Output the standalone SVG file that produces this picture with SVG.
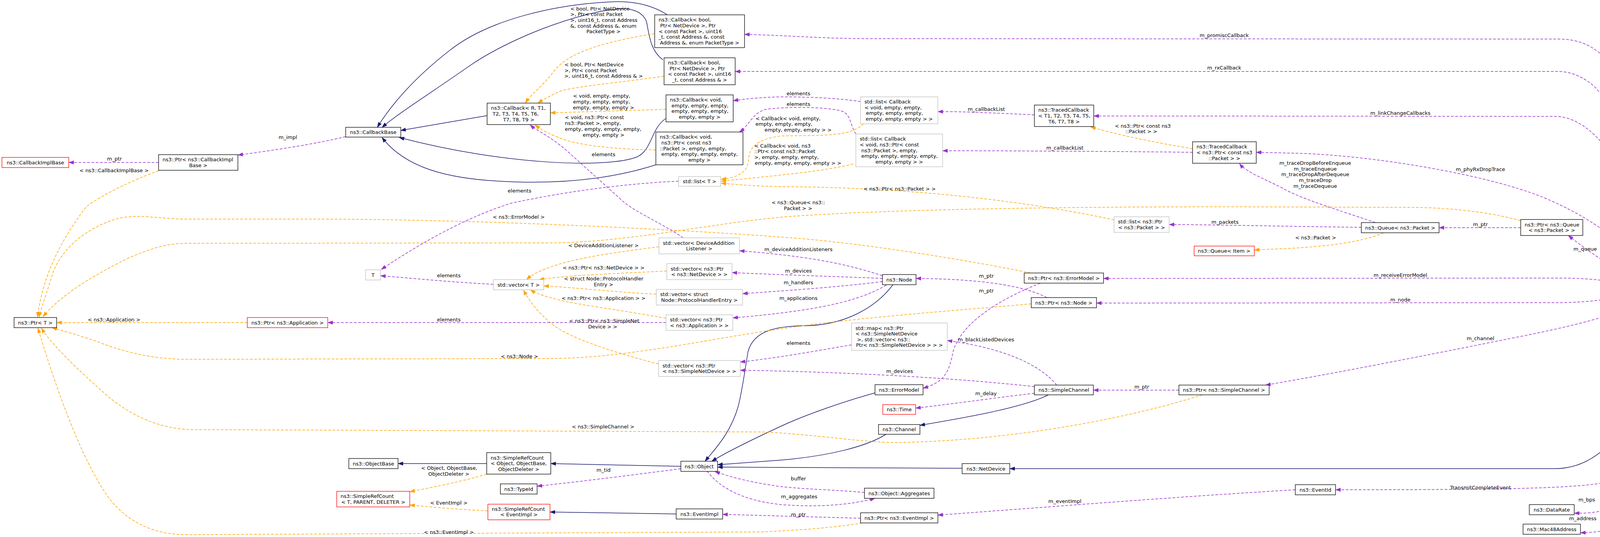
<svg xmlns="http://www.w3.org/2000/svg" width="4584" height="1375" viewBox="0 0 4584 1375">
<defs>
<marker id="ab" viewBox="0 0 14 10" refX="13" refY="5" markerWidth="14" markerHeight="10" markerUnits="userSpaceOnUse" orient="auto"><path d="M0,0 L14,5 L0,10 z" fill="#191970"/></marker>
<marker id="ap" viewBox="0 0 14 10" refX="13" refY="5" markerWidth="14" markerHeight="10" markerUnits="userSpaceOnUse" orient="auto"><path d="M0,0 L14,5 L0,10 z" fill="#9a32cd"/></marker>
<marker id="ao" viewBox="0 0 14 10" refX="13" refY="5" markerWidth="14" markerHeight="10" markerUnits="userSpaceOnUse" orient="auto"><path d="M0,0 L14,5 L0,10 z" fill="#ffa500"/></marker>
</defs>
<style>
.n rect{fill:#ffffff;stroke:#000000;stroke-width:1.3}
.g rect{stroke:#bfbfbf}
.r rect{stroke:#ff0000}
.h rect{fill:#bfbfbf}
text{font-family:"DejaVu Sans",sans-serif;font-size:13px;fill:#000000}
.c{text-anchor:middle}
#edges path{fill:none}
.inh{stroke:#191970;stroke-width:1.5;marker-end:url(#ab)}
.mem{stroke:#9a32cd;stroke-width:1.5;stroke-dasharray:7,4;marker-end:url(#ap)}
.tpl{stroke:#ffa500;stroke-width:1.5;stroke-dasharray:7,4;marker-end:url(#ao)}
</style>
<rect x="0" y="0" width="4584" height="1375" fill="#ffffff"/>
<g id="edges">
<path class="inh" d="M4392,744 L4342,744"/>
<path class="inh" d="M4257,757 C4235,1000 4140,1200 3980,1200 L2585,1200"/>
<path class="inh" d="M2463,1199 L1837,1196"/>
<path class="inh" d="M2268,1112 C2220,1143 2120,1168 2000,1178 L1837,1190"/>
<path class="inh" d="M2240,1006 C2160,1028 2060,1063 2000,1091 C1920,1128 1860,1158 1822,1181"/>
<path class="inh" d="M2286,729 C2240,790 2160,833 2060,834 C1990,835 1930,845 1915,900 C1905,960 1900,1000 1890,1040 C1870,1110 1830,1150 1805,1181"/>
<path class="inh" d="M1743,1194 L1410,1187"/>
<path class="inh" d="M1246,1187 L1019,1187"/>
<path class="inh" d="M1731,1316 L1408,1311"/>
<path class="inh" d="M2684,1011 C2620,1043 2480,1068 2355,1089"/>
<path class="inh" d="M1247,296 L1026,334"/>
<path class="inh" d="M1707,37 C1660,8 1610,2 1560,5 C1420,12 1250,50 1150,130 C1060,200 1000,270 966,326"/>
<path class="inh" d="M1697,153 C1665,130 1662,90 1655,55 C1645,30 1620,22 1590,22 C1480,30 1300,100 1200,170 C1100,240 1020,290 978,326"/>
<path class="inh" d="M1705,303 C1665,330 1670,385 1630,402 C1560,430 1300,425 1022,352"/>
<path class="inh" d="M1679,422 C1560,460 1420,475 1250,462 C1120,452 1030,420 978,352"/>

<path class="tpl" d="M1676,86 C1560,105 1460,130 1420,180 C1390,220 1360,240 1345,264"/>
<path class="tpl" d="M1700,195 C1600,210 1460,222 1430,235 C1410,245 1390,255 1377,264"/>
<path class="tpl" d="M1705,280 L1409,289"/>
<path class="tpl" d="M1679,384 C1560,382 1470,370 1430,352 C1400,340 1385,332 1370,320"/>
<path class="tpl" d="M406,437 C330,465 260,500 220,530 C160,610 110,700 96,812"/>
<path class="tpl" d="M2638,699 C2500,670 2200,620 2000,607 C1700,585 1200,561 800,561 L478,561 C400,561 360,546 300,560 C230,580 160,630 135,700 C120,750 105,790 100,812"/>
<path class="tpl" d="M3893,565 C3800,540 3700,531 3600,531 L3300,530 C2900,528 2300,532 2000,556 C1800,575 1600,622 1400,622 L478,623 C420,623 380,640 330,660 C250,700 160,750 110,811"/>
<path class="tpl" d="M633,826 L145,826"/>
<path class="tpl" d="M2640,778 C2450,795 2200,812 2000,842 C1800,870 1600,918 1400,918 L478,920 C380,920 300,895 250,875 C200,858 165,848 133,839"/>
<path class="tpl" d="M3078,1011 C2900,1068 2600,1128 2300,1133 C2200,1133 2100,1113 1950,1106 L491,1100 C400,1098 330,1058 280,1018 C200,948 130,880 106,840"/>
<path class="tpl" d="M2207,1339 C2130,1352 2050,1357 1950,1362 L478,1369 C380,1369 320,1327 280,1277 C200,1167 130,950 97,840"/>
<path class="tpl" d="M2211,317 C2190,335 2170,345 2083,347 L2000,348 C1940,356 1918,375 1916,410 C1914,440 1890,455 1846,459"/>
<path class="tpl" d="M2184,420 C2100,440 2000,448 1846,464"/>
<path class="tpl" d="M2852,563 C2700,530 2400,480 2000,478 C1920,476 1880,472 1846,469"/>
<path class="tpl" d="M1687,632 C1580,645 1480,660 1420,680 C1390,690 1365,700 1348,716"/>
<path class="tpl" d="M1707,694 C1580,700 1450,705 1380,716"/>
<path class="tpl" d="M1680,753 C1600,750 1480,737 1392,732"/>
<path class="tpl" d="M1705,815 C1600,795 1470,780 1420,765 C1390,757 1370,750 1358,742"/>
<path class="tpl" d="M1686,932 C1580,905 1470,870 1420,835 C1380,805 1355,770 1340,743"/>
<path class="tpl" d="M1246,1214 C1180,1234 1100,1249 1049,1259"/>
<path class="tpl" d="M1249,1308 C1180,1305 1110,1299 1049,1293"/>
<path class="tpl" d="M3053,381 C2960,365 2880,350 2792,325"/>
<path class="tpl" d="M3542,596 C3500,615 3420,630 3300,636 L3211,640"/>

<path class="mem" d="M4250,731 C4240,500 4200,250 4120,160 C4080,115 4040,100 3988,100 L2207,99 C2100,98 2000,90 1906,88"/>
<path class="mem" d="M4252,731 C4235,500 4160,300 4080,220 C4050,195 4020,183 3988,183 L1882,183"/>
<path class="mem" d="M4227,731 C4200,550 4150,400 4070,335 C4040,310 4010,298 3980,298 L2800,297"/>
<path class="mem" d="M4222,731 C4180,630 4080,560 3950,505 C3800,445 3500,395 3300,392 L3216,390"/>
<path class="mem" d="M4188,731 C4140,690 4060,640 4015,603"/>
<path class="mem" d="M3893,583 L3684,583"/>
<path class="mem" d="M3521,570 C3450,545 3330,510 3280,480 C3230,455 3190,440 3173,419"/>
<path class="mem" d="M3485,582 C3300,580 3100,575 2993,575"/>
<path class="mem" d="M4185,731 C4100,715 4050,712 3988,712 L2825,713"/>
<path class="mem" d="M4176,757 C4100,770 4040,775 3988,775 L2807,776"/>
<path class="mem" d="M4234,757 C4180,790 4100,820 3900,860 C3700,900 3450,950 3240,986"/>
<path class="mem" d="M4250,757 C4235,950 4200,1180 4135,1228 C4080,1250 3900,1254 3419,1254"/>
<path class="mem" d="M4246,757 C4230,1000 4190,1250 4150,1290 C4100,1315 4060,1314 4030,1314"/>
<path class="mem" d="M4258,757 C4245,1050 4200,1300 4152,1345 C4110,1362 4070,1364 4046,1364"/>
<path class="mem" d="M3316,1254 C3000,1273 2700,1297 2401,1319"/>
<path class="mem" d="M2203,1327 L1850,1317"/>
<path class="mem" d="M1810,1206 C1840,1247 1900,1282 2000,1292 C2100,1300 2180,1292 2240,1276"/>
<path class="mem" d="M2213,1261 C2150,1255 2050,1252 2000,1246 C1930,1237 1870,1222 1830,1207"/>
<path class="mem" d="M1743,1200 C1600,1219 1450,1237 1375,1245"/>
<path class="mem" d="M2259,706 C2150,670 2050,655 1893,642"/>
<path class="mem" d="M2259,713 C2150,708 2000,704 1874,698"/>
<path class="mem" d="M2259,721 C2150,735 2000,745 1901,752"/>
<path class="mem" d="M2269,730 C2200,770 2100,795 1876,814"/>
<path class="mem" d="M2680,762 C2620,730 2500,714 2345,713"/>
<path class="mem" d="M2663,725 C2550,770 2460,830 2440,900 C2430,950 2420,978 2363,994"/>
<path class="mem" d="M2705,986 C2660,930 2560,890 2425,872"/>
<path class="mem" d="M2180,883 C2080,900 2000,915 1895,927"/>
<path class="mem" d="M2648,990 C2400,963 2100,951 1895,948"/>
<path class="mem" d="M2648,1007 C2550,1018 2450,1033 2344,1045"/>
<path class="mem" d="M3018,999 L2799,999"/>
<path class="mem" d="M2648,294 C2550,290 2470,285 2401,286"/>
<path class="mem" d="M3053,390 C2900,388 2600,386 2413,386"/>
<path class="mem" d="M2203,260 C2150,252 2080,248 2000,248 C1950,249 1900,254 1877,258"/>
<path class="mem" d="M2191,343 C2175,320 2180,290 2150,283 C2100,272 2000,274 1960,280 C1925,290 1920,320 1893,338"/>
<path class="mem" d="M1749,609 C1700,575 1640,550 1600,520 L1450,385 C1410,350 1375,335 1357,320"/>
<path class="mem" d="M1737,464 C1600,470 1450,490 1310,520 C1180,560 1050,640 976,690"/>
<path class="mem" d="M1263,728 C1150,722 1050,712 974,706"/>
<path class="mem" d="M1705,826 L839,826"/>
<path class="mem" d="M885,350 C800,370 700,385 609,397"/>
<path class="mem" d="M406,416 L176,416"/>
</g>

<g id="edge-labels">
<text class="c" x="737" y="356">m_impl</text>
<text class="c" x="293" y="411">m_ptr</text>
<text class="c" x="292" y="441">&lt; ns3::CallbackImplBase &gt;</text>
<text x="1460" y="27">&lt; bool, Ptr&lt; NetDevice</text>
<text x="1460" y="41">&gt;, Ptr&lt; const Packet</text>
<text x="1460" y="56">&gt;, uint16_t, const Address</text>
<text x="1460" y="71">&amp;, const Address &amp;, enum</text>
<text class="c" x="1545" y="85">PacketType &gt;</text>
<text x="1445" y="170">&lt; bool, Ptr&lt; NetDevice</text>
<text x="1445" y="185">&gt;, Ptr&lt; const Packet</text>
<text class="c" x="1545" y="199">&gt;, uint16_t, const Address &amp; &gt;</text>
<text x="1467" y="250">&lt; void, empty, empty,</text>
<text x="1467" y="265">empty, empty, empty,</text>
<text class="c" x="1545" y="280">empty, empty, empty &gt;</text>
<text x="1446" y="305">&lt; void, ns3::Ptr&lt; const</text>
<text x="1446" y="320">ns3::Packet &gt;, empty,</text>
<text x="1446" y="335">empty, empty, empty, empty,</text>
<text class="c" x="1545" y="350">empty, empty &gt;</text>
<text class="c" x="1545" y="400">elements</text>
<text class="c" x="1330" y="493">elements</text>
<text x="1934" y="308">&lt; Callback&lt; void, empty,</text>
<text x="1934" y="322">empty, empty, empty,</text>
<text class="c" x="2043" y="337">empty, empty, empty &gt; &gt;</text>
<text x="1931" y="378">&lt; Callback&lt; void, ns3</text>
<text x="1931" y="392">::Ptr&lt; const ns3::Packet</text>
<text x="1931" y="407">&gt;, empty, empty, empty,</text>
<text class="c" x="2043" y="422">empty, empty, empty, empty &gt; &gt;</text>
<text class="c" x="2044" y="244">elements</text>
<text class="c" x="2044" y="271">elements</text>
<text class="c" x="2525" y="284">m_callbackList</text>
<text class="c" x="2726" y="383">m_callbackList</text>
<text x="2854" y="327">&lt; ns3::Ptr&lt; const ns3</text>
<text class="c" x="2922" y="341">::Packet &gt; &gt;</text>
<text class="c" x="3134" y="95">m_promiscCallback</text>
<text class="c" x="3134" y="178">m_rxCallback</text>
<text class="c" x="3585" y="294">m_linkChangeCallbacks</text>
<text class="c" x="3790" y="438">m_phyRxDropTrace</text>
<text class="c" x="3367" y="422">m_traceDropBeforeEnqueue</text>
<text class="c" x="3367" y="437">m_traceEnqueue</text>
<text class="c" x="3367" y="451">m_traceDropAfterDequeue</text>
<text class="c" x="3367" y="466">m_traceDrop</text>
<text class="c" x="3367" y="481">m_traceDequeue</text>
<text class="c" x="2303" y="488">&lt; ns3::Ptr&lt; ns3::Packet &gt; &gt;</text>
<text x="1975" y="523">&lt; ns3::Queue&lt; ns3::</text>
<text class="c" x="2043" y="538">Packet &gt; &gt;</text>
<text class="c" x="1328" y="560">&lt; ns3::ErrorModel &gt;</text>
<text class="c" x="3790" y="579">m_ptr</text>
<text class="c" x="3136" y="573">m_packets</text>
<text class="c" x="3368" y="613">&lt; ns3::Packet &gt;</text>
<text class="c" x="4058" y="642">m_queue</text>
<text class="c" x="1545" y="633">&lt; DeviceAdditionListener &gt;</text>
<text class="c" x="1545" y="690">&lt; ns3::Ptr&lt; ns3::NetDevice &gt; &gt;</text>
<text x="1444" y="718">&lt; struct Node::ProtocolHandler</text>
<text class="c" x="1545" y="733">Entry &gt;</text>
<text class="c" x="1545" y="768">&lt; ns3::Ptr&lt; ns3::Application &gt; &gt;</text>
<text x="1457" y="826">&lt; ns3::Ptr&lt; ns3::SimpleNet</text>
<text class="c" x="1543" y="841">Device &gt; &gt;</text>
<text class="c" x="1149" y="710">elements</text>
<text class="c" x="1149" y="823">elements</text>
<text class="c" x="292" y="823">&lt; ns3::Application &gt;</text>
<text class="c" x="2044" y="643">m_deviceAdditionListeners</text>
<text class="c" x="2044" y="698">m_devices</text>
<text class="c" x="2044" y="728">m_handlers</text>
<text class="c" x="2044" y="768">m_applications</text>
<text class="c" x="2525" y="711">m_ptr</text>
<text class="c" x="2525" y="749">m_ptr</text>
<text class="c" x="3585" y="709">m_receiveErrorModel</text>
<text class="c" x="3585" y="772">m_node</text>
<text class="c" x="3790" y="871">m_channel</text>
<text class="c" x="1330" y="917">&lt; ns3::Node &gt;</text>
<text class="c" x="2524" y="874">m_blackListedDevices</text>
<text class="c" x="2044" y="883">elements</text>
<text class="c" x="2303" y="955">m_devices</text>
<text class="c" x="2524" y="1012">m_delay</text>
<text class="c" x="2923" y="995">m_ptr</text>
<text class="c" x="1544" y="1097">&lt; ns3::SimpleChannel &gt;</text>
<text x="1078" y="1203">&lt; Object, ObjectBase,</text>
<text class="c" x="1149" y="1218">ObjectDeleter &gt;</text>
<text class="c" x="1545" y="1208">m_tid</text>
<text class="c" x="1149" y="1292">&lt; EventImpl &gt;</text>
<text class="c" x="2044" y="1230">buffer</text>
<text class="c" x="2046" y="1276">m_aggregates</text>
<text class="c" x="2044" y="1322">m_ptr</text>
<text class="c" x="2726" y="1288">m_eventImpl</text>
<text class="c" x="1149" y="1367">&lt; ns3::EventImpl &gt;</text>
<text class="c" x="3790" y="1253">TransmitCompleteEvent</text>
<text class="c" x="4062" y="1284">m_bps</text>
<text class="c" x="4052" y="1332">m_address</text>
</g>

<g id="n_lte" class="n h"><rect x="4392" y="731" width="187" height="26"/><text class="c" x="4485.5" y="748.5">ns3::LteSimpleNetDevice</text></g>
<g id="n_snd" class="n"><rect x="4176" y="731" width="166" height="26"/><text class="c" x="4259" y="748.5">ns3::SimpleNetDevice</text></g>
<g id="n_netdev" class="n"><rect x="2463" y="1187" width="122" height="26"/><text class="c" x="2524" y="1204.5">ns3::NetDevice</text></g>
<g id="n_object" class="n"><rect x="1743" y="1181" width="94" height="26"/><text class="c" x="1790" y="1198.5">ns3::Object</text></g>
<g id="n_objbase" class="n"><rect x="893" y="1174" width="126" height="26"/><text class="c" x="956" y="1191.5">ns3::ObjectBase</text></g>
<g id="n_src_obj" class="n"><rect x="1246" y="1159" width="164" height="55"/><text x="1256" y="1176.5">ns3::SimpleRefCount</text><text x="1256" y="1191">&lt; Object, ObjectBase,</text><text class="c" x="1328" y="1205.5">ObjectDeleter &gt;</text></g>
<g id="n_src_tpd" class="n r"><rect x="862" y="1258" width="187" height="40"/><text x="872" y="1275.2">ns3::SimpleRefCount</text><text class="c" x="955.5" y="1289.8">&lt; T, PARENT, DELETER &gt;</text></g>
<g id="n_typeid" class="n"><rect x="1281" y="1239" width="94" height="26"/><text class="c" x="1328" y="1256.5">ns3::TypeId</text></g>
<g id="n_src_ev" class="n r"><rect x="1249" y="1291" width="159" height="40"/><text x="1259" y="1307.7">ns3::SimpleRefCount</text><text class="c" x="1328.5" y="1322.3">&lt; EventImpl &gt;</text></g>
<g id="n_eventimpl" class="n"><rect x="1731" y="1303" width="119" height="26"/><text class="c" x="1790.5" y="1320.5">ns3::EventImpl</text></g>
<g id="n_aggr" class="n"><rect x="2213" y="1250" width="178" height="26"/><text class="c" x="2302" y="1267.5">ns3::Object::Aggregates</text></g>
<g id="n_ptr_ev" class="n"><rect x="2203" y="1313" width="198" height="26"/><text class="c" x="2302" y="1330.5">ns3::Ptr&lt; ns3::EventImpl &gt;</text></g>
<g id="n_eventid" class="n"><rect x="3316" y="1241" width="103" height="26"/><text class="c" x="3367.5" y="1258.5">ns3::EventId</text></g>
<g id="n_datarate" class="n"><rect x="3915" y="1292" width="115" height="26"/><text class="c" x="3972.5" y="1309.5">ns3::DataRate</text></g>
<g id="n_mac48" class="n"><rect x="3899" y="1342" width="147" height="26"/><text class="c" x="3972.5" y="1359.5">ns3::Mac48Address</text></g>
<g id="n_errmodel" class="n"><rect x="2240" y="985" width="123" height="26"/><text class="c" x="2301.5" y="1002.5">ns3::ErrorModel</text></g>
<g id="n_time" class="n r"><rect x="2260" y="1036" width="84" height="25"/><text class="c" x="2302" y="1053">ns3::Time</text></g>
<g id="n_channel" class="n"><rect x="2249" y="1087" width="106" height="25"/><text class="c" x="2302" y="1104">ns3::Channel</text></g>
<g id="n_simplechannel" class="n"><rect x="2648" y="986" width="151" height="25"/><text class="c" x="2723.5" y="1003">ns3::SimpleChannel</text></g>
<g id="n_ptr_sc" class="n"><rect x="3018" y="986" width="231" height="25"/><text class="c" x="3133.5" y="1003">ns3::Ptr&lt; ns3::SimpleChannel &gt;</text></g>
<g id="n_map" class="n g"><rect x="2180" y="827" width="245" height="70"/><text x="2190" y="844.6">std::map&lt; ns3::Ptr</text><text x="2190" y="859.2">&lt; ns3::SimpleNetDevice</text><text x="2194" y="873.8">&gt;, std::vector&lt; ns3::</text><text class="c" x="2302.5" y="888.4">Ptr&lt; ns3::SimpleNetDevice &gt; &gt; &gt;</text></g>
<g id="n_node" class="n"><rect x="2259" y="703" width="86" height="26"/><text class="c" x="2302" y="720.5">ns3::Node</text></g>
<g id="n_ptr_em" class="n"><rect x="2622" y="699" width="203" height="26"/><text class="c" x="2723.5" y="716.5">ns3::Ptr&lt; ns3::ErrorModel &gt;</text></g>
<g id="n_ptr_node" class="n"><rect x="2640" y="762" width="167" height="26"/><text class="c" x="2723.5" y="779.5">ns3::Ptr&lt; ns3::Node &gt;</text></g>
<g id="n_list_pkt" class="n g"><rect x="2852" y="555" width="141" height="40"/><text x="2862" y="572.2">std::list&lt; ns3::Ptr</text><text class="c" x="2922.5" y="586.8">&lt; ns3::Packet &gt; &gt;</text></g>
<g id="n_queue_item" class="n r"><rect x="3057" y="630" width="154" height="25"/><text class="c" x="3134" y="647">ns3::Queue&lt; Item &gt;</text></g>
<g id="n_queue_pkt" class="n"><rect x="3485" y="570" width="199" height="26"/><text class="c" x="3584.5" y="587.5">ns3::Queue&lt; ns3::Packet &gt;</text></g>
<g id="n_ptr_queue" class="n"><rect x="3893" y="562" width="159" height="41"/><text x="3903" y="579.7">ns3::Ptr&lt; ns3::Queue</text><text class="c" x="3972.5" y="594.3">&lt; ns3::Packet &gt; &gt;</text></g>
<g id="n_tc_ptr" class="n"><rect x="3053" y="363" width="163" height="55"/><text x="3063" y="380.4">ns3::TracedCallback</text><text x="3063" y="395">&lt; ns3::Ptr&lt; const ns3</text><text class="c" x="3134.5" y="409.6">::Packet &gt; &gt;</text></g>
<g id="n_tc_t" class="n"><rect x="2648" y="269" width="152" height="55"/><text x="2658" y="286.4">ns3::TracedCallback</text><text x="2658" y="301">&lt; T1, T2, T3, T4, T5,</text><text class="c" x="2724" y="315.6">T6, T7, T8 &gt;</text></g>
<g id="n_list_cbe" class="n g"><rect x="2203" y="248" width="198" height="69"/><text x="2213" y="265.1">std::list&lt; Callback</text><text x="2213" y="279.7">&lt; void, empty, empty,</text><text x="2217" y="294.3">empty, empty, empty,</text><text class="c" x="2302" y="308.9">empty, empty, empty &gt; &gt;</text></g>
<g id="n_list_cbp" class="n g"><rect x="2191" y="343" width="222" height="84"/><text x="2201" y="360.3">std::list&lt; Callback</text><text x="2201" y="374.9">&lt; void, ns3::Ptr&lt; const</text><text x="2205" y="389.5">ns3::Packet &gt;, empty,</text><text x="2205" y="404.1">empty, empty, empty, empty,</text><text class="c" x="2302" y="418.7">empty, empty &gt; &gt;</text></g>
<g id="n_list_t" class="n g"><rect x="1737" y="452" width="108" height="25"/><text class="c" x="1791" y="469">std::list&lt; T &gt;</text></g>
<g id="n_cb_bool5" class="n"><rect x="1676" y="38" width="230" height="84"/><text x="1686" y="55.3">ns3::Callback&lt; bool,</text><text x="1690" y="69.9">Ptr&lt; NetDevice &gt;, Ptr</text><text x="1686" y="84.5">&lt; const Packet &gt;, uint16</text><text x="1686" y="99.1">_t, const Address &amp;, const</text><text class="c" x="1791" y="113.7">Address &amp;, enum PacketType &gt;</text></g>
<g id="n_cb_bool4" class="n"><rect x="1700" y="148" width="182" height="69"/><text x="1710" y="165.1">ns3::Callback&lt; bool,</text><text x="1714" y="179.7">Ptr&lt; NetDevice &gt;, Ptr</text><text x="1710" y="194.3">&lt; const Packet &gt;, uint16</text><text class="c" x="1791" y="208.9">_t, const Address &amp; &gt;</text></g>
<g id="n_cb_void" class="n"><rect x="1705" y="243" width="172" height="69"/><text x="1715" y="260.1">ns3::Callback&lt; void,</text><text x="1719" y="274.7">empty, empty, empty,</text><text x="1719" y="289.3">empty, empty, empty,</text><text class="c" x="1791" y="303.9">empty, empty &gt;</text></g>
<g id="n_cb_voidp" class="n"><rect x="1679" y="338" width="223" height="84"/><text x="1689" y="355.3">ns3::Callback&lt; void,</text><text x="1693" y="369.9">ns3::Ptr&lt; const ns3</text><text x="1689" y="384.5">::Packet &gt;, empty, empty,</text><text x="1693" y="399.1">empty, empty, empty, empty,</text><text class="c" x="1790.5" y="413.7">empty &gt;</text></g>
<g id="n_cb_r" class="n"><rect x="1247" y="264" width="162" height="55"/><text x="1257" y="281.4">ns3::Callback&lt; R, T1,</text><text x="1261" y="296">T2, T3, T4, T5, T6,</text><text class="c" x="1328" y="310.6">T7, T8, T9 &gt;</text></g>
<g id="n_cbbase" class="n"><rect x="885" y="326" width="141" height="25"/><text class="c" x="955.5" y="343">ns3::CallbackBase</text></g>
<g id="n_ptr_cib" class="n"><rect x="406" y="396" width="203" height="40"/><text x="416" y="413.2">ns3::Ptr&lt; ns3::CallbackImpl</text><text class="c" x="507.5" y="427.8">Base &gt;</text></g>
<g id="n_cib" class="n r"><rect x="5" y="403" width="171" height="26"/><text class="c" x="90.5" y="420.5">ns3::CallbackImplBase</text></g>
<g id="n_ptr_t" class="n"><rect x="36" y="813" width="109" height="26"/><text class="c" x="90.5" y="830.5">ns3::Ptr&lt; T &gt;</text></g>
<g id="n_ptr_app" class="n r"><rect x="633" y="813" width="206" height="26"/><text class="c" x="736" y="830.5">ns3::Ptr&lt; ns3::Application &gt;</text></g>
<g id="n_t" class="n g"><rect x="936" y="691" width="38" height="26"/><text class="c" x="955" y="708.5">T</text></g>
<g id="n_vec_t" class="n g"><rect x="1263" y="716" width="129" height="26"/><text class="c" x="1327.5" y="733.5">std::vector&lt; T &gt;</text></g>
<g id="n_vec_dal" class="n g"><rect x="1687" y="609" width="206" height="41"/><text x="1697" y="626.7">std::vector&lt; DeviceAddition</text><text class="c" x="1790" y="641.3">Listener &gt;</text></g>
<g id="n_vec_nd" class="n g"><rect x="1707" y="675" width="167" height="41"/><text x="1717" y="692.7">std::vector&lt; ns3::Ptr</text><text class="c" x="1790.5" y="707.3">&lt; ns3::NetDevice &gt; &gt;</text></g>
<g id="n_vec_phe" class="n g"><rect x="1680" y="741" width="221" height="40"/><text x="1690" y="758.2">std::vector&lt; struct</text><text class="c" x="1790.5" y="772.8">Node::ProtocolHandlerEntry &gt;</text></g>
<g id="n_vec_app" class="n g"><rect x="1705" y="806" width="171" height="40"/><text x="1715" y="823.2">std::vector&lt; ns3::Ptr</text><text class="c" x="1790.5" y="837.8">&lt; ns3::Application &gt; &gt;</text></g>
<g id="n_vec_snd" class="n g"><rect x="1686" y="923" width="209" height="41"/><text x="1696" y="940.7">std::vector&lt; ns3::Ptr</text><text class="c" x="1790.5" y="955.3">&lt; ns3::SimpleNetDevice &gt; &gt;</text></g>
</svg>
